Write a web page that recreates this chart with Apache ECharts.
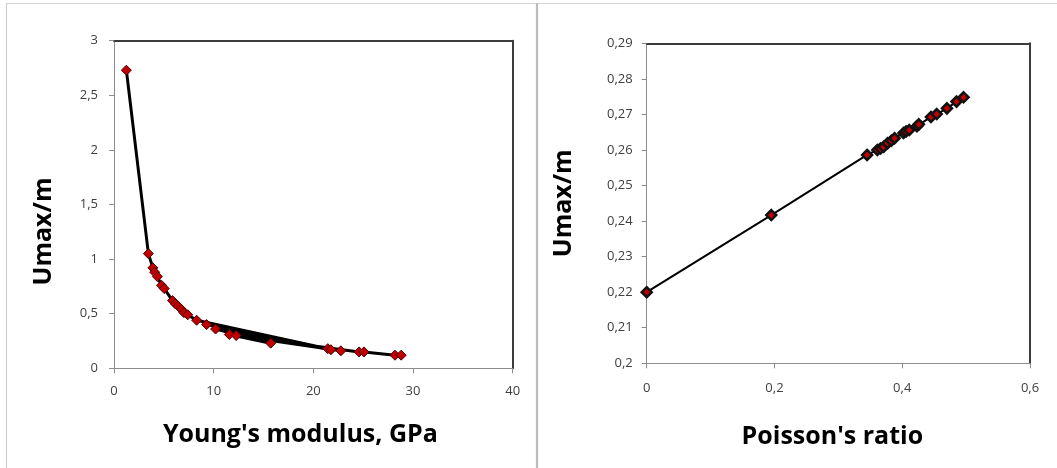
<!DOCTYPE html>
<html><head><meta charset="utf-8">
<script src="https://cdn.jsdelivr.net/npm/echarts@6/dist/echarts.min.js"></script>
<style>html,body{margin:0;padding:0;background:#fff}#c{width:1057px;height:468px}</style>
</head><body><div id="c"></div>
<script>
// Left chart: Young's modulus (GPa) vs Umax/m, in plotted (data) order
var youngE = [1.24, 3.45, 3.90, 4.08, 4.35, 4.77, 5.04, 5.87, 6.15, 6.42, 6.77, 7.01, 7.39, 8.29, 21.45, 9.29, 21.76, 10.19, 15.72, 11.57, 22.76, 12.26, 24.59, 25.08, 28.19, 28.81];
var youngU = [2.73, 1.05, 0.92, 0.88, 0.84, 0.76, 0.73, 0.62, 0.59, 0.57, 0.54, 0.51, 0.49, 0.44, 0.18, 0.40, 0.17, 0.36, 0.23, 0.31, 0.16, 0.30, 0.15, 0.15, 0.12, 0.12];
// Right chart: Poisson's ratio vs Umax/m
var poissonNu = [0, 0.195, 0.345, 0.361, 0.366, 0.371, 0.377, 0.383, 0.388, 0.402, 0.406, 0.411, 0.423, 0.426, 0.445, 0.454, 0.470, 0.485, 0.496];
var poissonU = [0.2200, 0.2417, 0.2586, 0.2600, 0.2604, 0.2609, 0.2619, 0.2626, 0.2633, 0.2648, 0.2652, 0.2656, 0.2667, 0.2672, 0.2693, 0.2701, 0.2717, 0.2736, 0.2748];
// Tick labels
var leftXTicks = ['0', '10', '20', '30', '40'];
var leftYTicks = ['0', '0,5', '1', '1,5', '2', '2,5', '3'];
var rightXTicks = ['0', '0,2', '0,4', '0,6'];
var rightYTicks = ['0,2', '0,21', '0,22', '0,23', '0,24', '0,25', '0,26', '0,27', '0,28', '0,29'];
var xNameLeft = "Young's modulus, GPa";
var xNameRight = "Poisson's ratio";
var yName = "Umax/m";

function pairs(a, b) { return a.map(function (v, i) { return [v, b[i]]; }); }
function tickFmt(labels, min, step) {
  return function (v) { var i = Math.round((v - min) / step); return labels[i] !== undefined ? labels[i] : ''; };
}

var font = "'Open Sans', sans-serif";
var labelStyle = { color: '#404040', fontSize: 13, fontFamily: font };
var nameStyle = { color: '#000', fontSize: 25, fontWeight: 'bold', fontFamily: font };
var grayLine = { show: true, lineStyle: { color: '#8c8c8c', width: 1 } };
var grayTick = { show: true, inside: false, length: 5, lineStyle: { color: '#8c8c8c', width: 1 } };

function borderAxis(gi, pos, min, max) {
  return { type: 'value', gridIndex: gi, position: pos, min: min, max: max,
    axisLine: { show: true, onZero: false, lineStyle: { color: '#3c3c3c', width: 2 } },
    axisTick: { show: false }, axisLabel: { show: false }, splitLine: { show: false } };
}

var chart = echarts.init(document.getElementById('c'), null, { renderer: 'canvas' });
chart.setOption({
  backgroundColor: '#fff',
  animation: false,
  graphic: [
    { type: 'line', shape: { x1: 6, y1: 3.5, x2: 1057, y2: 3.5 }, style: { stroke: '#d2d2d2', lineWidth: 1 } },
    { type: 'line', shape: { x1: 6.5, y1: 3, x2: 6.5, y2: 468 }, style: { stroke: '#cfcfcf', lineWidth: 1.2 } },
    { type: 'line', shape: { x1: 537, y1: 3, x2: 537, y2: 468 }, style: { stroke: '#bdbdbd', lineWidth: 2.2 } }
  ],
  grid: [
    { left: 114, top: 40.7, right: 1057 - 512.7, bottom: 468 - 368.3, containLabel: false, outerBoundsMode: 'none' },
    { left: 646.7, top: 43.3, right: 27, bottom: 468 - 363.3, containLabel: false, outerBoundsMode: 'none' }
  ],
  xAxis: [
    { type: 'value', gridIndex: 0, min: 0, max: 40, interval: 10,
      axisLine: grayLine, axisTick: grayTick, splitLine: { show: false },
      axisLabel: Object.assign({ margin: 16, formatter: tickFmt(leftXTicks, 0, 10) }, labelStyle),
      name: xNameLeft, nameLocation: 'middle', nameGap: 54,
      nameTextStyle: Object.assign({ padding: [0, 26, 0, 0] }, nameStyle) },
    { type: 'value', gridIndex: 1, min: 0, max: 0.6, interval: 0.2,
      axisLine: grayLine, axisTick: grayTick, splitLine: { show: false },
      axisLabel: Object.assign({ margin: 18, formatter: tickFmt(rightXTicks, 0, 0.2) }, labelStyle),
      name: xNameRight, nameLocation: 'middle', nameGap: 61,
      nameTextStyle: Object.assign({ padding: [0, 12, 0, 0] }, nameStyle) },
    borderAxis(0, 'top', 0, 40),
    borderAxis(1, 'top', 0, 0.6)
  ],
  yAxis: [
    { type: 'value', gridIndex: 0, min: 0, max: 3, interval: 0.5,
      axisLine: grayLine, axisTick: grayTick, splitLine: { show: false },
      axisLabel: Object.assign({ margin: 16, formatter: tickFmt(leftYTicks, 0, 0.5) }, labelStyle),
      name: yName, nameLocation: 'middle', nameGap: 58,
      nameTextStyle: Object.assign({ padding: [0, 54, 0, 0] }, nameStyle) },
    { type: 'value', gridIndex: 1, min: 0.2, max: 0.29, interval: 0.01,
      axisLine: grayLine, axisTick: grayTick, splitLine: { show: false },
      axisLabel: Object.assign({ margin: 14, formatter: tickFmt(rightYTicks, 0.2, 0.01) }, labelStyle),
      name: yName, nameLocation: 'middle', nameGap: 70,
      nameTextStyle: nameStyle },
    borderAxis(0, 'right', 0, 3),
    borderAxis(1, 'right', 0.2, 0.29)
  ],
  series: [
    { type: 'line', xAxisIndex: 0, yAxisIndex: 0, data: pairs(youngE, youngU),
      lineStyle: { color: '#000', width: 3 }, symbol: 'diamond', symbolSize: 10,
      itemStyle: { color: '#c00000', borderColor: '#4a0000', borderWidth: 1 }, z: 3 },
    { type: 'line', xAxisIndex: 1, yAxisIndex: 1, data: pairs(poissonNu, poissonU),
      lineStyle: { color: '#000', width: 2 }, symbol: 'diamond', symbolSize: 10,
      itemStyle: { color: '#c00000', borderColor: '#111', borderWidth: 2.5 }, z: 3 }
  ]
});
</script></body></html>
